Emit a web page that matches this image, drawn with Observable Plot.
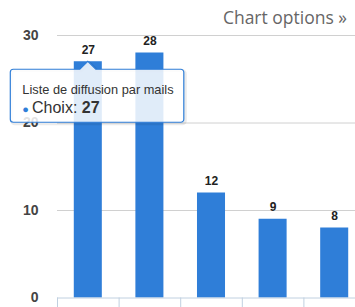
<!DOCTYPE html>
<html><head><meta charset="utf-8">
<script src="https://cdn.jsdelivr.net/npm/d3@7"></script>
<script src="https://cdn.jsdelivr.net/npm/@observablehq/plot@0.6"></script>
<style>
body{margin:0;background:#fff;}
#wrap{position:relative;width:355px;height:307px;overflow:hidden;font-family:"Liberation Sans",Arial,sans-serif;}
#chart{position:absolute;left:0;top:0;width:365px;}
#chart svg{max-width:none !important;}
#opts{position:absolute;right:8px;top:5px;font:17.5px "Open Sans",sans-serif;color:#666;white-space:nowrap;}
</style></head><body>
<div id="wrap"><div id="chart"></div><div id="opts">Chart options »</div></div>
<script>
const categories = ["Liste de diffusion par mails", "Site web", "Bouche à oreille", "Réseaux sociaux", "Autre"];
const values = [27, 28, 12, 9, 8];
const yTicks = [0, 10, 20, 30];
const seriesName = "Choix";
const tipIndex = 0;
const barColor = "#2f7ed8";

const data = categories.map((c, i) => ({cat: c, value: values[i]}));

const chart = Plot.plot({
  width: 365, height: 307,
  marginTop: 35, marginBottom: 9.5, marginLeft: 57, marginRight: 0,
  style: {fontFamily: "Liberation Sans, Arial, sans-serif", background: "transparent", overflow: "visible", maxWidth: "none"},
  x: {domain: categories, paddingInner: 0.545, paddingOuter: 0.2725, round: false, axis: null},
  y: {domain: [0, 30], axis: null},
  marks: [
    Plot.ruleY(yTicks.filter(t => t > 0), {stroke: "#d0d0d0"}),
    Plot.barY(data, {x: "cat", y: "value", fill: barColor}),
    Plot.ruleY([0], {stroke: "#c0d0e0"}),
    Plot.axisX({ticks: categories, tickSize: 10, tickFormat: () => "", label: null, dx: -30.8, stroke: "#c0d0e0", strokeOpacity: 1}),
    Plot.axisY({ticks: yTicks, tickSize: 0, tickPadding: 19, label: null, fontSize: 14, fill: "#444", fontWeight: "bold"}),
    Plot.text(data, {x: "cat", y: "value", text: d => String(d.value), dy: -12, fontWeight: "bold", fontSize: 12, fill: "#222"})
  ]
});
document.getElementById("chart").appendChild(chart);

// tooltip anchored to the bar via the chart's scales
const xs = chart.scale("x"), ys = chart.scale("y");
const d0 = data[tipIndex];
const cx = xs.apply(d0.cat) + xs.bandwidth / 2;
const ty = ys.apply(d0.value);
const bx0 = cx - 77.5, by0 = ty + 8, bw = 173.5, bh = 53, r = 3;
const bx1 = bx0 + bw, by1 = by0 + bh;
const p = d3.path();
p.moveTo(bx0 + r, by0);
p.lineTo(cx - 8, by0); p.lineTo(cx, ty); p.lineTo(cx + 8, by0);
p.lineTo(bx1 - r, by0); p.arcTo(bx1, by0, bx1, by0 + r, r);
p.lineTo(bx1, by1 - r); p.arcTo(bx1, by1, bx1 - r, by1, r);
p.lineTo(bx0 + r, by1); p.arcTo(bx0, by1, bx0, by1 - r, r);
p.lineTo(bx0, by0 + r); p.arcTo(bx0, by0, bx0 + r, by0, r);
p.closePath();
const g = d3.select(chart).append("g").attr("text-anchor", "start");
g.append("path").attr("d", p.toString()).attr("transform", "translate(1.5,1.5)")
  .attr("fill", "none").attr("stroke", "rgba(0,0,0,0.08)").attr("stroke-width", 3);
g.append("path").attr("d", p.toString()).attr("fill", "rgba(255,255,255,0.85)")
  .attr("stroke", barColor).attr("stroke-width", 1.2);
g.append("text").attr("x", bx0 + 12).attr("y", by0 + 25)
  .attr("font-size", 12.8).attr("fill", "#333").text(d0.cat);
const t2 = g.append("text").attr("x", bx0 + 12).attr("y", by0 + 44).attr("font-size", 16).attr("fill", "#333");
t2.append("tspan").attr("fill", barColor).attr("font-size", 11).text("● ");
t2.append("tspan").text(seriesName + ": ");
t2.append("tspan").attr("font-weight", "bold").text(String(d0.value));
</script>
</body></html>
